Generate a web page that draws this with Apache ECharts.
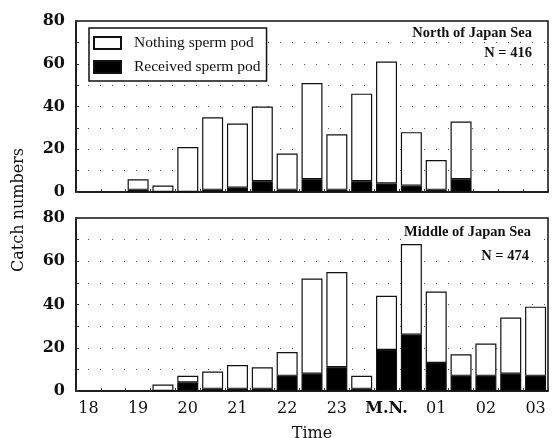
<!DOCTYPE html>
<html>
<head>
<meta charset="utf-8">
<style>
  html, body { margin: 0; padding: 0; background: #fff; }
  #chart { width: 552px; height: 438px; }
</style>
<script src="https://cdn.jsdelivr.net/npm/echarts@6/dist/echarts.min.js"></script>
</head>
<body>
<div id="chart"></div>
<script>
// Half-hour time slots (18:00 .. 03:00); only full hours get a tick label
const timeSlots = ['18','18:30','19','19:30','20','20:30','21','21:30','22','22:30','23','23:30','M.N.','00:30','01','01:30','02','02:30','03'];
const yTickLabels = [0, 20, 40, 60, 80];
const seriesNames = ['Nothing sperm pod', 'Received sperm pod'];

// North of Japan Sea (N = 416)
const northReceived = [null, null, 1, 0, 0, 1, 2, 5, 1, 6, 1, 5, 4, 3, 1, 6, null, null, null];
const northNothing  = [null, null, 5, 3, 21, 34, 30, 35, 17, 45, 26, 41, 57, 25, 14, 27, null, null, null];

// Middle of Japan Sea (N = 474)
const middleReceived = [null, null, null, 0, 4, 1, 1, 1, 7, 8, 11, 1, 19, 26, 13, 7, 7, 8, 7];
const middleNothing  = [null, null, null, 3, 3, 8, 11, 10, 11, 44, 44, 6, 25, 42, 33, 10, 15, 26, 32];

const panelTitles = ['North of Japan Sea', 'Middle of Japan Sea'];
const panelN = ['N = 416', 'N = 474'];

const chart = echarts.init(document.getElementById('chart'), null, { renderer: 'canvas' });

const serif = 'DejaVu Serif';
const ink = '#111';

function xAxisFor(gridIndex, showLabels) {
  return {
    type: 'category',
    gridIndex: gridIndex,
    data: timeSlots,
    boundaryGap: true,
    axisLine: { show: true, lineStyle: { color: ink, width: 1.5 } },
    axisTick: { show: true, inside: true, length: 3, interval: 0, lineStyle: { color: '#333' } },
    axisLabel: {
      show: showLabels,
      interval: 1,
      margin: 10,
      fontFamily: serif,
      fontSize: 16,
      color: ink,
      formatter: function (v) { return v === 'M.N.' ? '{b|M.N.}' : v; },
      rich: { b: { fontFamily: serif, fontSize: 16, fontWeight: 'bold', color: ink } }
    },
    name: showLabels ? 'Time' : '',
    nameLocation: 'middle',
    nameGap: 35,
    nameTextStyle: { fontFamily: serif, fontSize: 16, color: ink },
    splitLine: { show: false }
  };
}

function yAxisFor(gridIndex) {
  return {
    type: 'value',
    gridIndex: gridIndex,
    min: 0,
    max: 80,
    interval: 10,
    axisLine: { show: true, lineStyle: { color: ink, width: 1.5 } },
    axisTick: { show: true, inside: true, length: 3, lineStyle: { color: '#333' } },
    axisLabel: {
      margin: 11,
      fontFamily: serif,
      fontSize: 16,
      fontWeight: 'bold',
      color: ink,
      formatter: function (v) { return yTickLabels.indexOf(v) >= 0 ? String(v) : ''; }
    },
    splitLine: { show: true, lineStyle: { color: '#555', width: 1, type: [1, 11] } }
  };
}

function barSeries(name, data, gi, stack, fill) {
  return {
    name: name,
    type: 'bar',
    xAxisIndex: gi,
    yAxisIndex: gi,
    stack: stack,
    data: data,
    barWidth: 21,
    itemStyle: { color: fill, borderColor: ink, borderWidth: 1.2 },
    emphasis: { disabled: true },
    animation: false
  };
}

function annot(text, x, y) {
  return {
    type: 'text',
    x: x, y: y,
    z: 100,
    style: {
      text: text,
      align: 'right',
      verticalAlign: 'middle',
      fontFamily: 'Liberation Serif',
      fontWeight: 'bold',
      fontSize: 14.5,
      fill: ink,
      backgroundColor: '#fff',
      padding: [1, 2]
    }
  };
}

const option = {
  backgroundColor: '#fff',
  animation: false,
  grid: [
    { left: 76, right: 4, top: 21, height: 171, outerBoundsMode: 'none', containLabel: false, show: true, borderColor: ink, borderWidth: 1.5, backgroundColor: 'transparent' },
    { left: 76, right: 4, top: 218, height: 173, outerBoundsMode: 'none', containLabel: false, show: true, borderColor: ink, borderWidth: 1.5, backgroundColor: 'transparent' }
  ],
  xAxis: [xAxisFor(0, false), xAxisFor(1, true)],
  yAxis: [yAxisFor(0), yAxisFor(1)],
  legend: {
    data: seriesNames,
    orient: 'vertical',
    left: 89,
    top: 28,
    padding: [7, 6, 6, 4],
    itemWidth: 27,
    itemHeight: 12,
    itemGap: 8,
    icon: 'rect',
    borderColor: ink,
    borderWidth: 1.5,
    backgroundColor: '#fff',
    selectedMode: false,
    textStyle: { fontFamily: 'Liberation Serif', fontSize: 15.5, color: ink, padding: [0, 0, 0, 8] }
  },
  series: [
    barSeries(seriesNames[1], northReceived, 0, 'north', '#000'),
    barSeries(seriesNames[0], northNothing, 0, 'north', '#fff'),
    barSeries(seriesNames[1], middleReceived, 1, 'middle', '#000'),
    barSeries(seriesNames[0], middleNothing, 1, 'middle', '#fff')
  ],
  graphic: [
    annot(panelTitles[0], 534, 33),
    annot(panelN[0], 534, 53),
    annot(panelTitles[1], 533, 232),
    annot(panelN[1], 531, 256),
    {
      type: 'text',
      x: 19, y: 210,
      rotation: Math.PI / 2,
      style: {
        text: 'Catch numbers',
        align: 'center',
        verticalAlign: 'middle',
        fontFamily: serif,
        fontSize: 16,
        fill: ink
      }
    }
  ]
};

chart.setOption(option);
</script>
</body>
</html>
